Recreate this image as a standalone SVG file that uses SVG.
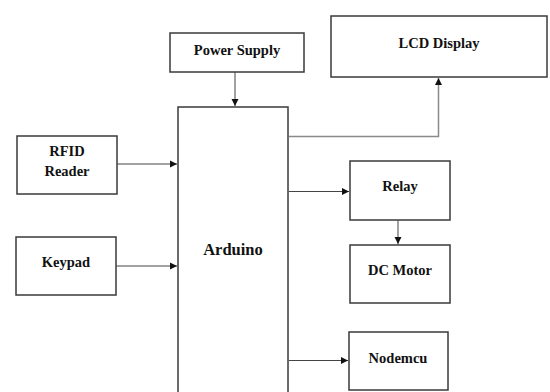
<svg xmlns="http://www.w3.org/2000/svg" width="550" height="392" viewBox="0 0 550 392">
<style>
.box{fill:#fff;stroke:#3a3a3a;stroke-width:1.5}
.lbl{font-family:"Liberation Serif",serif;font-weight:bold;font-size:14.5px;fill:#111;text-anchor:middle}
.big{font-size:16.5px}
.con{fill:none;stroke:#444;stroke-width:1}
.gray{stroke:#8a8a8a;stroke-width:1.5}
</style>
<defs>
<marker id="ah" markerWidth="8" markerHeight="8" refX="7" refY="4" orient="auto" markerUnits="userSpaceOnUse">
<path d="M0,0.5 L7,4 L0,7.5 Z" fill="#111"/>
</marker>
</defs>
<rect width="550" height="392" fill="#fff"/>
<g id="arduino"><rect class="box" x="178" y="107" width="110" height="300"/><text class="lbl big" x="233" y="255">Arduino</text></g>
<g id="power"><rect class="box" x="170" y="33" width="134" height="39"/><text class="lbl" x="237" y="55">Power Supply</text></g>
<g id="lcd"><rect class="box" x="331" y="16" width="216" height="61"/><text class="lbl" x="439" y="48">LCD Display</text></g>
<g id="rfid"><rect class="box" x="17" y="136" width="100" height="58"/><text class="lbl" x="67" y="156">RFID</text><text class="lbl" x="67" y="176">Reader</text></g>
<g id="keypad"><rect class="box" x="16" y="237" width="100" height="58"/><text class="lbl" x="66" y="267">Keypad</text></g>
<g id="relay"><rect class="box" x="350" y="161" width="100" height="59"/><text class="lbl" x="400" y="191">Relay</text></g>
<g id="dcmotor"><rect class="box" x="350" y="245" width="100" height="58"/><text class="lbl" x="400" y="275">DC Motor</text></g>
<g id="nodemcu"><rect class="box" x="349" y="332" width="99" height="58"/><text class="lbl" x="398" y="363">Nodemcu</text></g>
<g id="connectors">
<line class="con" x1="235" y1="72" x2="235" y2="106" marker-end="url(#ah)"/>
<polyline class="con gray" points="289,136.5 438.5,136.5 438.5,78" marker-end="url(#ah)"/>
<line class="con" x1="117" y1="164" x2="177" y2="164" marker-end="url(#ah)"/>
<line class="con" x1="116" y1="266" x2="177" y2="266" marker-end="url(#ah)"/>
<line class="con" x1="289" y1="191.5" x2="349" y2="191.5" marker-end="url(#ah)"/>
<line class="con" x1="398" y1="220" x2="398" y2="244" marker-end="url(#ah)"/>
<line class="con" x1="289" y1="360.5" x2="348" y2="360.5" marker-end="url(#ah)"/>
</g>
</svg>
